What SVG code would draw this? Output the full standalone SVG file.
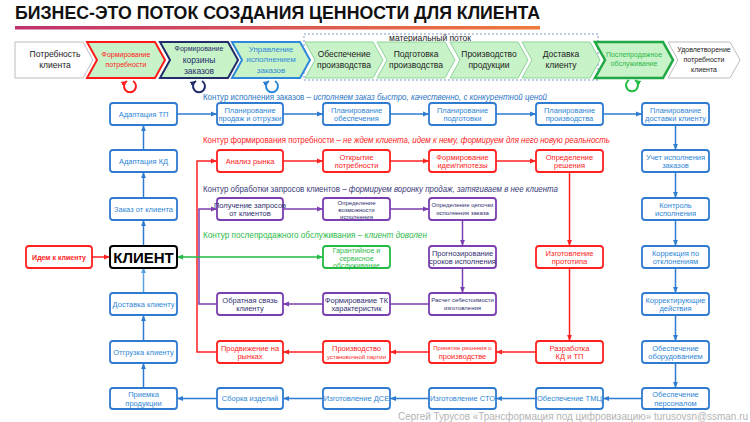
<svg xmlns="http://www.w3.org/2000/svg" width="750" height="422" viewBox="0 0 750 422">
<defs>
<linearGradient id="bar" x1="0" x2="1" y1="0" y2="0">
<stop offset="0" stop-color="#c0306e"/><stop offset="1" stop-color="#f07a3a"/>
</linearGradient>
<marker id="mb" viewBox="0 0 10 10" refX="10" refY="5" markerWidth="6" markerHeight="6" markerUnits="userSpaceOnUse" orient="auto"><path d="M0,1 L10,5 L0,9 z" fill="#2e7bcf"/></marker>
<marker id="ml" viewBox="0 0 10 10" refX="10" refY="5" markerWidth="6" markerHeight="6" markerUnits="userSpaceOnUse" orient="auto"><path d="M0,1 L10,5 L0,9 z" fill="#5aa2e0"/></marker>
<marker id="mr" viewBox="0 0 10 10" refX="10" refY="5" markerWidth="6" markerHeight="6" markerUnits="userSpaceOnUse" orient="auto"><path d="M0,1 L10,5 L0,9 z" fill="#ff2020"/></marker>
<marker id="mp" viewBox="0 0 10 10" refX="10" refY="5" markerWidth="6" markerHeight="6" markerUnits="userSpaceOnUse" orient="auto"><path d="M0,1 L10,5 L0,9 z" fill="#7a3fb0"/></marker>
<marker id="mg" viewBox="0 0 10 10" refX="10" refY="5" markerWidth="6" markerHeight="6" markerUnits="userSpaceOnUse" orient="auto-start-reverse"><path d="M0,1 L10,5 L0,9 z" fill="#22bb44"/></marker>
<marker id="mn" viewBox="0 0 10 10" refX="10" refY="5" markerWidth="6" markerHeight="6" markerUnits="userSpaceOnUse" orient="auto"><path d="M0,1 L10,5 L0,9 z" fill="#1f2d6b"/></marker>
</defs>
<style>
text{font-family:"Liberation Sans","DejaVu Sans",sans-serif;}
.ch{fill:#c8f2c8;stroke:#8fd49a;stroke-width:1;}
.chw{fill:#ffffff;stroke:#bdbdbd;stroke-width:1;}
.ct{font-size:8.5px;fill:#222;text-anchor:middle;}
.cs{font-size:7px;text-anchor:middle;}
.bb{fill:#fff;stroke:#2e7bcf;stroke-width:1.8;}
.br{fill:#fff;stroke:#ff2020;stroke-width:1.8;}
.bp{fill:#fff;stroke:#7a3fb0;stroke-width:1.8;}
.bg{fill:#fff;stroke:#22bb44;stroke-width:1.8;}
.tb{font-size:7.5px;fill:#2e86d6;text-anchor:middle;}
.tr{font-size:7.5px;fill:#ff1a1a;text-anchor:middle;}
.tp{font-size:7.5px;fill:#2f2f70;text-anchor:middle;}
.tps{font-size:6px;fill:#2f2f70;text-anchor:middle;}
.tg{font-size:7px;fill:#2cba4a;text-anchor:middle;}
.hd{font-size:8.5px;}
.cb{fill:none;stroke:#2e7bcf;stroke-width:1.5;marker-end:url(#mb);}
.cl{fill:none;stroke:#5aa2e0;stroke-width:1.5;marker-end:url(#ml);}
.cr{fill:none;stroke:#ff2020;stroke-width:1.5;marker-end:url(#mr);}
.cp{fill:none;stroke:#7a3fb0;stroke-width:1.5;marker-end:url(#mp);}
</style>
<rect width="750" height="422" fill="#fff"/>
<text x="15" y="19" font-family="'Open Sans','Liberation Sans',sans-serif" font-weight="bold" font-size="18" fill="#111" textLength="525" lengthAdjust="spacingAndGlyphs">БИЗНЕС-ЭТО ПОТОК СОЗДАНИЯ ЦЕННОСТИ ДЛЯ КЛИЕНТА</text>
<rect x="15" y="26" width="525" height="3.5" fill="url(#bar)"/>

<g id="material-flow">
<rect x="304" y="34" width="294" height="46" fill="none" stroke="#7a9cc8" stroke-width="1" stroke-dasharray="2,2"/>
<text x="430" y="41" font-size="8.5" fill="#222" text-anchor="middle">материальный поток</text>
</g>

<g id="chevrons">
<g id="ch1"><polygon class="chw" points="15,42 83,42 93,60 83,78 15,78"/><text class="ct" x="55" y="57">Потребность</text><text class="ct" x="55" y="68">клиента</text></g>
<g id="ch2"><polygon class="ch" style="stroke:#ff1a1a;stroke-width:2" points="87,42 155,42 165,60 155,78 87,78 97,60"/><text class="cs" fill="#ff1a1a" x="126" y="57">Формирование</text><text class="cs" fill="#ff1a1a" x="126" y="67">потребности</text></g>
<g id="ch3"><polygon class="ch" style="stroke:#1f2d6b;stroke-width:2" points="160,42 228,42 238,60 228,78 160,78 170,60"/><text class="cs" fill="#1f2d6b" x="199" y="51">Формирование</text><text class="ct" style="fill:#1f2d6b" x="199" y="63">корзины</text><text class="ct" style="fill:#1f2d6b" x="199" y="74">заказов</text></g>
<g id="ch4"><polygon class="ch" style="stroke:#2e8ad8;stroke-width:2" points="232,42 300,42 310,60 300,78 232,78 242,60"/><text class="ct" style="fill:#2e8ad8;font-size:8px" x="271" y="52">Управление</text><text class="ct" style="fill:#2e8ad8;font-size:8px" x="271" y="62">исполнением</text><text class="ct" style="fill:#2e8ad8;font-size:8px" x="271" y="73">заказов</text></g>
<g id="ch5"><polygon class="ch" points="305,42 373,42 383,60 373,78 305,78 315,60"/><text class="ct" x="344" y="57">Обеспечение</text><text class="ct" x="344" y="68">производства</text></g>
<g id="ch6"><polygon class="ch" points="377,42 445,42 455,60 445,78 377,78 387,60"/><text class="ct" x="416" y="57">Подготовка</text><text class="ct" x="416" y="68">производства</text></g>
<g id="ch7"><polygon class="ch" points="450,42 518,42 528,60 518,78 450,78 460,60"/><text class="ct" x="489" y="57">Производство</text><text class="ct" x="489" y="68">продукции</text></g>
<g id="ch8"><polygon class="ch" points="522,42 590,42 600,60 590,78 522,78 532,60"/><text class="ct" x="561" y="57">Доставка</text><text class="ct" x="561" y="68">клиенту</text></g>
<g id="ch9"><polygon class="ch" style="stroke:#1fa844;stroke-width:2.5" points="595,42 663,42 673,60 663,78 595,78 605,60"/><text class="cs" fill="#2cba4a" x="634" y="57">Послепродажное</text><text class="cs" fill="#2cba4a" x="634" y="66">обслуживание</text></g>
<g id="ch10"><polygon class="chw" points="668,42 730,42 740,60 730,78 668,78 678,60"/><text class="cs" fill="#222" x="704" y="52">Удовлетворение</text><text class="cs" fill="#222" x="704" y="62">потребности</text><text class="cs" fill="#222" x="704" y="72">клиента</text></g>
</g>

<g id="loops" fill="none" stroke-width="2">
<path d="M133,81 A6,6 0 1 1 127,81" stroke="#ff1a1a" marker-end="url(#mr)"/>
<path d="M202,81 A6,6 0 1 1 196,81" stroke="#1f2d6b" marker-end="url(#mn)"/>
<path d="M275,81 A6,6 0 1 1 269,81" stroke="#2e8ad8" marker-end="url(#mb)"/>
<path d="M629,80 A6,6 0 1 0 635,80" stroke="#22bb44" marker-end="url(#mg)"/>
</g>

<g id="headers">
<text class="hd" x="203" y="100" fill="#2e75c6" textLength="344" lengthAdjust="spacingAndGlyphs">Контур исполнения заказов – <tspan font-style="italic">исполняем заказ быстро, качественно, с конкурентной ценой</tspan></text>
<text class="hd" x="203" y="143" fill="#ff1a1a" textLength="407" lengthAdjust="spacingAndGlyphs">Контур формирования потребности – <tspan font-style="italic">не ждем клиента, идем к нему, формируем для него новую реальность</tspan></text>
<text class="hd" x="203" y="192" fill="#3a3a78" textLength="355" lengthAdjust="spacingAndGlyphs">Контур обработки запросов клиентов – <tspan font-style="italic">формируем воронку продаж, затягиваем в нее клиента</tspan></text>
<text x="203" y="238" fill="#2cba4a" font-size="8.2">Контур послепродажного обслуживания – <tspan font-style="italic">клиент доволен</tspan></text>
</g>

<g id="connectors">
<path class="cb" d="M177,114 H217"/><path class="cb" d="M283,114 H323"/><path class="cb" d="M390,114 H429"/><path class="cb" d="M496,114 H536"/><path class="cb" d="M603,114 H642"/>
<path class="cb" d="M675.5,125 V150"/><path class="cb" d="M675.5,172 V198"/><path class="cb" d="M675.5,220 V246"/><path class="cb" d="M675.5,267 V293"/><path class="cb" d="M675.5,315 V341"/><path class="cb" d="M675.5,363 V388"/>
<path class="cb" d="M642,398.5 H603"/><path class="cb" d="M536,398.5 H496"/><path class="cb" d="M429,398.5 H390"/><path class="cb" d="M323,398.5 H283"/><path class="cb" d="M217,398.5 H177"/>
<path class="cb" d="M143.5,388 V363"/><path class="cb" d="M143.5,341 V315"/><path class="cl" d="M143.5,293 V267"/><path class="cb" d="M143.5,246 V220"/><path class="cb" d="M143.5,198 V172"/><path class="cb" d="M143.5,150 V125"/>
<path class="cr" d="M92,257 H110"/>
<path class="cr" d="M283,161 H323"/><path class="cr" d="M390,161 H429"/><path class="cr" d="M496,161 H536"/>
<path class="cr" d="M569.5,172 V246"/><path class="cr" d="M569.5,267 V341"/>
<path class="cr" d="M536,352 H496"/><path class="cr" d="M429,352 H390"/><path class="cr" d="M323,352 H283"/>
<path class="cr" d="M217,352 H197 V161 H217"/>
<path class="cp" d="M283,209 H323"/><path class="cp" d="M390,209 H429"/>
<path class="cp" d="M462.5,220 V246"/><path class="cp" d="M462.5,267 V293"/>
<path fill="none" stroke="#7a3fb0" stroke-width="1.5" d="M429,304 H390"/><path class="cp" d="M323,304 H283"/>
<path class="cp" d="M217,304 H199 V209 H217"/>
<path fill="none" stroke="#22bb44" stroke-width="1.5" marker-start="url(#mg)" marker-end="url(#mg)" d="M177,257 H323"/>
</g>

<g id="n-adapt-tp"><rect class="bb" x="110" y="103" width="67" height="22" rx="3"/><text class="tb" x="143.5" y="116.7">Адаптация ТП</text></g>
<g id="n-plan-sales"><rect class="bb" x="217" y="103" width="66" height="22" rx="3"/><text class="tb" x="250" y="112.5">Планирование</text><text class="tb" x="250" y="121">продаж и отгрузки</text></g>
<g id="n-plan-supply"><rect class="bb" x="323" y="103" width="67" height="22" rx="3"/><text class="tb" x="356.5" y="112.5">Планирование</text><text class="tb" x="356.5" y="121">обеспечения</text></g>
<g id="n-plan-prep"><rect class="bb" x="429" y="103" width="67" height="22" rx="3"/><text class="tb" x="462.5" y="112.5">Планирование</text><text class="tb" x="462.5" y="121">подготовки</text></g>
<g id="n-plan-prod"><rect class="bb" x="536" y="103" width="67" height="22" rx="3"/><text class="tb" x="569.5" y="112.5">Планирование</text><text class="tb" x="569.5" y="121">производства</text></g>
<g id="n-plan-deliv"><rect class="bb" x="642" y="103" width="67" height="22" rx="3"/><text class="tb" x="675.5" y="112.5">Планирование</text><text class="tb" x="675.5" y="121">доставки клиенту</text></g>
<g id="n-uchet"><rect class="bb" x="642" y="150" width="67" height="22" rx="3"/><text class="tb" x="675.5" y="159.5">Учет исполнения</text><text class="tb" x="675.5" y="168">заказов</text></g>
<g id="n-control"><rect class="bb" x="642" y="198" width="67" height="22" rx="3"/><text class="tb" x="675.5" y="207.5">Контроль</text><text class="tb" x="675.5" y="216">исполнения</text></g>
<g id="n-correction"><rect class="bb" x="642" y="246" width="67" height="22" rx="3"/><text class="tb" x="675.5" y="255.5">Коррекция  по</text><text class="tb" x="675.5" y="264">отклонениям</text></g>
<g id="n-corrective"><rect class="bb" x="642" y="293" width="67" height="22" rx="3"/><text class="tb" x="675.5" y="302.5">Корректирующие</text><text class="tb" x="675.5" y="311">действия</text></g>
<g id="n-equip"><rect class="bb" x="642" y="341" width="67" height="22" rx="3"/><text class="tb" x="675.5" y="350.5">Обеспечение</text><text class="tb" x="675.5" y="359">оборудованием</text></g>
<g id="n-staff"><rect class="bb" x="642" y="388" width="67" height="21" rx="3"/><text class="tb" x="675.5" y="397">Обеспечение</text><text class="tb" x="675.5" y="405.5">персоналом</text></g>
<g id="n-tmc"><rect class="bb" x="536" y="388" width="67" height="21" rx="3"/><text class="tb" x="569.5" y="401.2">Обеспечение  ТМЦ</text></g>
<g id="n-sto"><rect class="bb" x="429" y="388" width="67" height="21" rx="3"/><text class="tb" x="462.5" y="401.2">Изготовление  СТО</text></g>
<g id="n-dse"><rect class="bb" x="323" y="388" width="67" height="21" rx="3"/><text class="tb" x="356.5" y="401.2">Изготовление  ДСЕ</text></g>
<g id="n-assembly"><rect class="bb" x="217" y="388" width="66" height="21" rx="3"/><text class="tb" x="250" y="401.2">Сборка изделий</text></g>
<g id="n-accept"><rect class="bb" x="110" y="388" width="67" height="21" rx="3"/><text class="tb" x="143.5" y="397">Приемка</text><text class="tb" x="143.5" y="405.5">продукции</text></g>
<g id="n-ship"><rect class="bb" x="110" y="341" width="67" height="22" rx="3"/><text class="tb" x="143.5" y="354.7">Отгрузка клиенту</text></g>
<g id="n-deliver"><rect class="bb" x="110" y="293" width="67" height="22" rx="3"/><text class="tb" x="143.5" y="306.7">Доставка  клиенту</text></g>
<g id="n-client"><rect x="110" y="246" width="67" height="22" rx="3" fill="#fff" stroke="#000" stroke-width="2"/><text x="143.5" y="263" font-size="15" font-weight="bold" text-anchor="middle" fill="#000">КЛИЕНТ</text></g>
<g id="n-order"><rect class="bb" x="110" y="198" width="67" height="22" rx="3"/><text class="tb" x="143.5" y="211.7">Заказ от клиента</text></g>
<g id="n-adapt-kd"><rect class="bb" x="110" y="150" width="67" height="22" rx="3"/><text class="tb" x="143.5" y="163.7">Адаптация  КД</text></g>
<g id="n-go-client"><rect class="br" x="26" y="246" width="66" height="22" rx="3"/><text class="tr" x="59" y="259.7" font-weight="bold" style="font-size:7px">Идем к клиенту</text></g>

<g id="n-market"><rect class="br" x="217" y="150" width="66" height="22" rx="3"/><text class="tr" x="250" y="163.7">Анализ рынка</text></g>
<g id="n-open-need"><rect class="br" x="323" y="150" width="67" height="22" rx="3"/><text class="tr" x="356.5" y="159.5">Открытие</text><text class="tr" x="356.5" y="168">потребности</text></g>
<g id="n-idea"><rect class="br" x="429" y="150" width="67" height="22" rx="3"/><text class="tr" x="462.5" y="159.5">Формирование</text><text class="tr" x="462.5" y="168">идеи/гипотезы</text></g>
<g id="n-solution"><rect class="br" x="536" y="150" width="67" height="22" rx="3"/><text class="tr" x="569.5" y="159.5">Определение</text><text class="tr" x="569.5" y="168">решения</text></g>
<g id="n-prototype"><rect class="br" x="536" y="246" width="67" height="22" rx="3"/><text class="tr" x="569.5" y="255.5">Изготовление</text><text class="tr" x="569.5" y="264">прототипа</text></g>
<g id="n-kd-tp"><rect class="br" x="536" y="341" width="67" height="22" rx="3"/><text class="tr" x="569.5" y="350.5">Разработка</text><text class="tr" x="569.5" y="359">КД и ТП</text></g>
<g id="n-decision"><rect class="br" x="429" y="341" width="67" height="22" rx="3"/><text class="tr" x="462.5" y="349.5" style="font-size:6px">Принятие решения о</text><text class="tr" x="462.5" y="359">производстве</text></g>
<g id="n-pilot"><rect class="br" x="323" y="341" width="67" height="22" rx="3"/><text class="tr" x="356.5" y="350.5">Производство</text><text class="tr" x="356.5" y="359" style="font-size:6px">установочной партии</text></g>
<g id="n-promo"><rect class="br" x="217" y="341" width="66" height="22" rx="3"/><text class="tr" x="250" y="350.5">Продвижение  на</text><text class="tr" x="250" y="359">рынках</text></g>

<g id="n-requests"><rect class="bp" x="217" y="198" width="66" height="22" rx="3"/><text class="tp" x="250" y="207.5">Получение запросов</text><text class="tp" x="250" y="216">от клиентов</text></g>
<g id="n-possibility"><rect class="bp" x="323" y="198" width="67" height="22" rx="3"/><text class="tps" x="356.5" y="204.5">Определение</text><text class="tps" x="356.5" y="211.5">возможности</text><text class="tps" x="356.5" y="218.5">исполнения</text></g>
<g id="n-chain"><rect class="bp" x="429" y="198" width="67" height="22" rx="3"/><text class="tps" x="462.5" y="207">Определение цепочки</text><text class="tps" x="462.5" y="215">исполнения заказа</text></g>
<g id="n-forecast"><rect class="bp" x="429" y="246" width="67" height="22" rx="3"/><text class="tp" x="462.5" y="255.5">Прогнозирование</text><text class="tp" x="462.5" y="264">сроков исполнения</text></g>
<g id="n-cost"><rect class="bp" x="429" y="293" width="67" height="22" rx="3"/><text class="tps" x="462.5" y="302">Расчет себестоимости</text><text class="tps" x="462.5" y="310">изготовления</text></g>
<g id="n-tk"><rect class="bp" x="323" y="293" width="67" height="22" rx="3"/><text class="tp" x="356.5" y="302.5">Формирование ТК</text><text class="tp" x="356.5" y="311">характеристик</text></g>
<g id="n-feedback"><rect class="bp" x="217" y="293" width="66" height="22" rx="3"/><text class="tp" x="250" y="302.5">Обратная связь</text><text class="tp" x="250" y="311">клиенту</text></g>

<g id="n-service"><rect class="bg" x="323" y="246" width="67" height="22" rx="3"/><text class="tg" x="356.5" y="253">Гарантийное и</text><text class="tg" x="356.5" y="260.5">сервисное</text><text class="tg" x="356.5" y="268">обслуживание</text></g>

<text x="748" y="419.8" font-size="10" fill="#b4b4b4" text-anchor="end" textLength="350" lengthAdjust="spacingAndGlyphs">Сергей Турусов «Трансформация под цифровизацию» turusovsn@ssman.ru</text>
</svg>
